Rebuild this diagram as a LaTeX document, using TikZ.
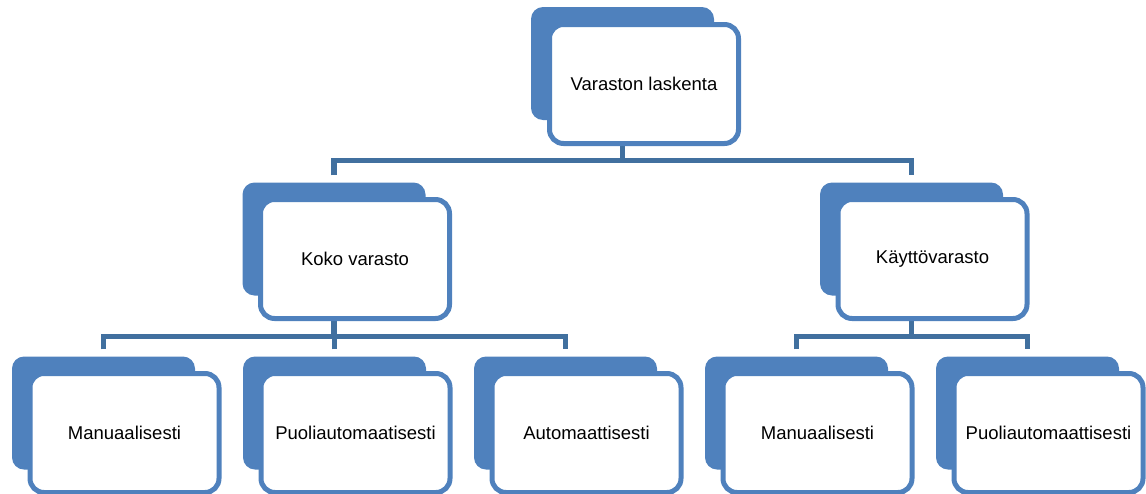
\documentclass[tikz,border=0pt]{standalone}
\usepackage{fontspec}
\setmainfont{Liberation Sans}
\usepackage{xcolor}
\definecolor{boxBlue}{HTML}{4F81BD}
\definecolor{lineBlue}{HTML}{41709F}

\begin{document}
\begin{tikzpicture}[
        x=1pt, y=-1pt,
        back/.style={rectangle, fill=boxBlue, minimum width=183pt, minimum height=113pt, rounded corners=12pt, inner sep=0pt},
        front/.style={rectangle, draw=boxBlue, fill=white, line width=5pt, minimum width=189pt, minimum height=119pt, rounded corners=14pt, inner sep=0pt, text centered, font=\fontsize{18.5}{22}\selectfont},
        conn/.style={draw=lineBlue, line width=5.5pt, line join=miter}
    ]
        \useasboundingbox (0,0) rectangle (1146,493);

        % ========== BACK PLATES ==========
        \node[back] (laskentaBack) at (622.5,63.5) {};
        \node[back] (kokoBack) at (334,239) {};
        \node[back] (kayttoBack) at (911.5,239) {};
        \node[back] (manu1Back) at (103.5,413) {};
        \node[back] (puoli1Back) at (334.5,413) {};
        \node[back] (autoBack) at (565.5,413) {};
        \node[back] (manu2Back) at (796.5,413) {};
        \node[back] (puoli2Back) at (1027.5,413) {};

        % ========== CONNECTORS ==========
        \draw[conn] (laskentaBack.south) -- ++(0,40);
        \draw[conn, shorten <=7pt, shorten >=7pt] (kokoBack.north) -- ++(0,-22) -| (kayttoBack.north);
        \draw[conn] (kokoBack.south) -- ++(0,40);
        \draw[conn, shorten <=7pt, shorten >=7pt] (manu1Back.north) -- ++(0,-20) -| (autoBack.north);
        \draw[conn, shorten <=7pt] (puoli1Back.north) -- ++(0,-20);
        \draw[conn] (kayttoBack.south) -- ++(0,40);
        \draw[conn, shorten <=7pt, shorten >=7pt] (manu2Back.north) -- ++(0,-20) -| (puoli2Back.north);

        % ========== FRONT BOXES ==========
        \node[front] (laskenta) at (644,84) {Varaston laskenta};
        \node[front] (koko) at (355,259) {Koko varasto};
        \node[front] (kaytto) at (932.5,259) {Käyttövarasto};
        \node[front] (manu1) at (124.5,433) {Manuaalisesti};
        \node[front] (puoli1) at (355.5,433) {Puoliautomaatisesti};
        \node[front] (auto) at (586.5,433) {Automaattisesti};
        \node[front] (manu2) at (817.5,433) {Manuaalisesti};
        \node[front] (puoli2) at (1048.5,433) {Puoliautomaattisesti};
    \end{tikzpicture}
\end{document}
